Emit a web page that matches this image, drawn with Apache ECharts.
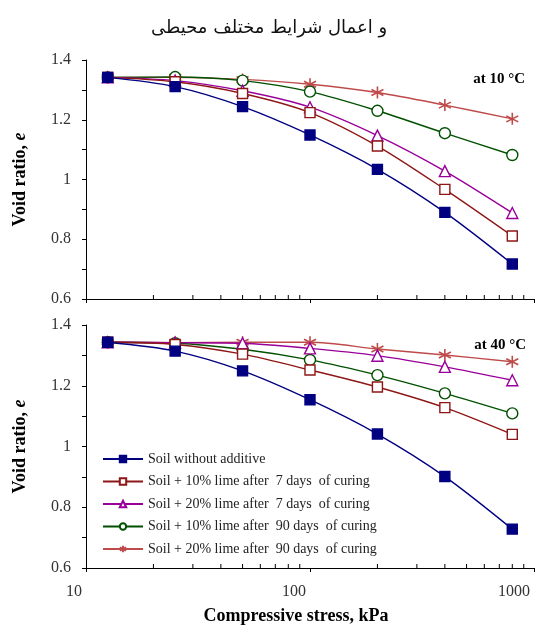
<!DOCTYPE html>
<html lang="fa">
<head>
    <meta charset="utf-8">
    <title>Void ratio vs compressive stress</title>
    <script src="https://cdn.jsdelivr.net/npm/echarts@6/dist/echarts.min.js"></script>
    <style>
        html, body { margin: 0; padding: 0; background: #fff; }
        #chart { width: 553px; height: 628px; }
    </style>
</head>
<body>
<div id="chart"></div>
<script type="text/javascript">
    // compressive stress steps (kPa)
    var stress = [12.5, 25, 50, 100, 200, 400, 800];

    var seriesNames = [
        'Soil without additive',
        'Soil + 10% lime after  7 days  of curing',
        'Soil + 20% lime after  7 days  of curing',
        'Soil + 10% lime after  90 days  of curing',
        'Soil + 20% lime after  90 days  of curing'
    ];

    // void ratio at 10 °C
    var e10_plain   = [1.342, 1.311, 1.244, 1.149, 1.034, 0.890, 0.717];
    var e10_l10_d7  = [1.342, 1.327, 1.288, 1.224, 1.112, 0.967, 0.811];
    var e10_l20_d7  = [1.342, 1.331, 1.297, 1.242, 1.147, 1.028, 0.888];
    var e10_l10_d90 = [1.342, 1.343, 1.331, 1.294, 1.230, 1.155, 1.082];
    var e10_l20_d90 = [1.342, 1.342, 1.335, 1.319, 1.291, 1.249, 1.203];

    // void ratio at 40 °C
    var e40_plain   = [1.343, 1.314, 1.249, 1.154, 1.041, 0.901, 0.728];
    var e40_l10_d7  = [1.343, 1.336, 1.304, 1.252, 1.196, 1.128, 1.040];
    var e40_l20_d7  = [1.343, 1.342, 1.340, 1.323, 1.299, 1.262, 1.218];
    var e40_l10_d90 = [1.343, 1.340, 1.320, 1.285, 1.235, 1.175, 1.109];
    var e40_l20_d90 = [1.343, 1.342, 1.343, 1.343, 1.321, 1.301, 1.279];

    var yTicks = ['1.4', '1.2', '1', '0.8', '0.6'];
    var xMinorTicks = [20, 30, 40, 50, 60, 70, 80, 90, 200, 300, 400, 500, 600, 700, 800, 900];

    var FONT = 'Liberation Serif';
    var colors = ['#000080', '#8f1616', '#990099', '#005000', '#bf4a4a'];
    var symbols = [
        'rect',
        'rect',
        'triangle',
        'circle',
        'path://M0,-10 L0,10 M-8.66,-5 L8.66,5 M-8.66,5 L8.66,-5'
    ];
    var symbolSizes = [10, 10, 11, 11, 12];
    var filled = [true, false, false, false, false];

    function pairs(vals) {
        return stress.map(function (x, i) { return [x, vals[i]]; });
    }

    function lineSeries(idx, vals, gridIdx) {
        return {
            name: seriesNames[idx],
            type: 'line',
            xAxisIndex: gridIdx,
            yAxisIndex: gridIdx,
            data: pairs(vals),
            smooth: 0.3,
            symbol: symbols[idx],
            symbolSize: symbolSizes[idx],
            showAllSymbol: true,
            lineStyle: { color: colors[idx], width: 1.4 },
            itemStyle: {
                color: filled[idx] ? colors[idx] : (idx === 4 ? 'none' : '#fff'),
                borderColor: colors[idx],
                borderWidth: idx === 4 ? 1.6 : 1.4
            },
            z: 10 - idx
        };
    }

    // small inside ticks at 20..90, 200..900 drawn through the log scale
    function minorTicks(gridIdx) {
        return {
            type: 'custom',
            xAxisIndex: gridIdx,
            yAxisIndex: gridIdx,
            silent: true,
            data: xMinorTicks.map(function (v) { return [v, 0.6]; }),
            renderItem: function (params, api) {
                var p = api.coord([api.value(0), api.value(1)]);
                return {
                    type: 'line',
                    shape: { x1: p[0], y1: p[1], x2: p[0], y2: p[1] - 4 },
                    style: { stroke: '#000', lineWidth: 1 }
                };
            }
        };
    }

    function yAxis(gridIdx) {
        return {
            type: 'value',
            gridIndex: gridIdx,
            min: 0.6,
            max: 1.4,
            interval: 0.1,
            name: '{b|Void ratio, }{i|e}',
            nameLocation: 'middle',
            nameGap: 57,
            nameTextStyle: {
                rich: {
                    b: { fontFamily: FONT, fontWeight: 'bold', fontSize: 18, color: '#000' },
                    i: { fontFamily: FONT, fontWeight: 'bold', fontStyle: 'italic', fontSize: 18, color: '#000' }
                }
            },
            axisLine: { show: true, lineStyle: { color: '#000', width: 1 } },
            axisTick: { show: true, inside: false, length: 4, lineStyle: { color: '#000' } },
            axisLabel: {
                fontFamily: FONT,
                fontSize: 16,
                color: '#333',
                margin: 15,
                formatter: function (v) {
                    var k = Math.round(v * 10);
                    if (k % 2 !== 0) return '';
                    var s = String(k / 10);
                    return yTicks.indexOf(s) >= 0 ? s : '';
                }
            },
            splitLine: { show: false }
        };
    }

    function xAxis(gridIdx, showLabels) {
        return {
            type: 'log',
            logBase: 10,
            gridIndex: gridIdx,
            min: 10,
            max: 1000,
            name: showLabels ? 'Compressive stress, kPa' : '',
            nameLocation: 'middle',
            nameGap: 39,
            nameTextStyle: { fontFamily: FONT, fontWeight: 'bold', fontSize: 18, color: '#000', padding: [0, 28, 0, 0] },
            axisLine: { show: true, onZero: false, lineStyle: { color: '#000', width: 1 } },
            axisTick: { show: true, inside: false, length: 4, lineStyle: { color: '#000' } },
            axisLabel: {
                show: showLabels,
                fontFamily: FONT,
                fontSize: 16,
                color: '#333',
                margin: 16,
                align: 'right',
                padding: [0, 4, 0, 0],
                formatter: function (v) { return String(Math.round(v)); }
            },
            splitLine: { show: false },
            minorTick: { show: false }
        };
    }

    var chart = echarts.init(document.getElementById('chart'));

    var series = [];
    [e10_plain, e10_l10_d7, e10_l20_d7, e10_l10_d90, e10_l20_d90].forEach(function (vals, i) {
        series.push(lineSeries(i, vals, 0));
    });
    [e40_plain, e40_l10_d7, e40_l20_d7, e40_l10_d90, e40_l20_d90].forEach(function (vals, i) {
        series.push(lineSeries(i, vals, 1));
    });
    series.push(minorTicks(0));
    series.push(minorTicks(1));

    chart.setOption({
        backgroundColor: '#fff',
        animation: false,
        title: [
            {
                text: 'و اعمال شرایط مختلف محیطی',
                left: 146,
                top: 14,
                textStyle: { fontFamily: 'DejaVu Sans', fontWeight: 'normal', fontSize: 18, color: '#111' }
            },
            {
                text: 'at 10 °C',
                right: 23,
                top: 67,
                textStyle: { fontFamily: FONT, fontWeight: 'bold', fontSize: 15, color: '#000' }
            },
            {
                text: 'at 40 °C',
                right: 22,
                top: 333,
                textStyle: { fontFamily: FONT, fontWeight: 'bold', fontSize: 15, color: '#000' }
            }
        ],
        grid: [
            { left: 86, right: 19, top: 60, height: 239 },
            { left: 86, right: 19, top: 325, height: 243 }
        ],
        xAxis: [xAxis(0, false), xAxis(1, true)],
        yAxis: [yAxis(0), yAxis(1)],
        legend: {
            data: seriesNames,
            orient: 'vertical',
            left: 97,
            top: 447,
            itemWidth: 40,
            itemHeight: 8,
            itemGap: 8.5,
            textStyle: { fontFamily: FONT, fontSize: 14, lineHeight: 14, color: '#222' }
        },
        series: series
    });
</script>
</body>
</html>
